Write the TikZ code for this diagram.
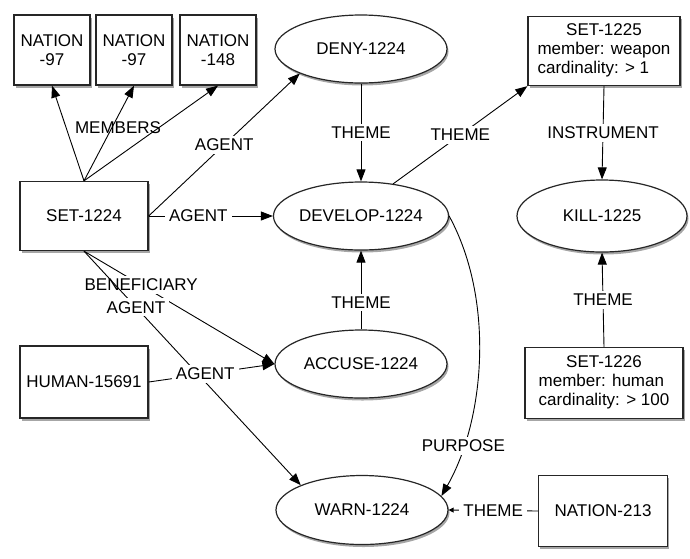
\documentclass[tikz,border=0pt]{standalone}
\usepackage{fontspec}
\setmainfont{Liberation Sans}
\usetikzlibrary{shapes.geometric,shadows,arrows.meta}
\begin{document}
\begin{tikzpicture}[x=1pt,y=-1pt,
 font=\fontsize{17}{19}\selectfont,
 shad/.style={drop shadow={shadow xshift=1.5pt,shadow yshift=-2.5pt,opacity=0.35,fill=black}},
 box/.style={rectangle,draw=black!85,line width=1.3pt,fill=white,align=center,shad,inner sep=2pt},
 oval/.style={ellipse,draw=black!85,line width=1.2pt,fill=white,shad,minimum width=172pt,minimum height=68pt,inner sep=0pt},
 arr/.style={-{Triangle[length=12pt,width=9pt]},line width=0.9pt},
 smallarr/.style={-{Triangle[length=5pt,width=5pt]},line width=0.9pt},
 lbl/.style={fill=white,inner xsep=4pt,inner ysep=3pt}]
\fill[white] (0,0) rectangle (690,558);
\useasboundingbox (0,0) rectangle (690,558);

% nodes
\node[box,minimum width=76pt,minimum height=70pt] (n1) at (52,50) {NATION\\-97};
\node[box,minimum width=76pt,minimum height=70pt] (n2) at (134,50) {NATION\\-97};
\node[box,minimum width=76pt,minimum height=70pt] (n3) at (218,50) {NATION\\-148};
\node[oval] (deny) at (361,49) {DENY-1224};
\node[box,minimum width=152pt,minimum height=69pt] (set1225) at (604,51)
  {\begin{tabular}{@{}l@{}}\multicolumn{1}{@{}c@{}}{SET-1225}\\member: weapon\\cardinality: > 1\end{tabular}};
\node[box,minimum width=128pt,minimum height=69pt] (set1224) at (84,216) {SET-1224};
\node[oval] (develop) at (361,216) {DEVELOP-1224};
\node[oval,minimum width=170pt,minimum height=72pt] (kill) at (602,216) {KILL-1225};
\node[oval] (accuse) at (361,364) {ACCUSE-1224};
\node[box,minimum width=128pt,minimum height=72pt] (human) at (84,382) {HUMAN-15691};
\node[box,minimum width=158pt,minimum height=71pt] (set1226) at (604,383)
  {\begin{tabular}{@{}l@{}}\multicolumn{1}{@{}c@{}}{SET-1226}\\member: human\\cardinality: > 100\end{tabular}};
\node[oval,minimum height=69pt] (warn) at (362,510) {WARN-1224};
\node[box,minimum width=129pt,minimum height=71pt] (nat213) at (603,511) {NATION-213};

% edges
\draw[arr] (set1224.north) -- (n1.south);
\draw[arr] (set1224.north) -- node[pos=0.56,xshift=6pt,inner sep=1pt] {MEMBERS} (n2.south);
\draw[arr] (set1224.north) -- (n3.south);
\draw[arr] (set1224.east) -- node[lbl,pos=0.5] {AGENT} (deny.south west);
\draw[arr] (set1224.east) -- node[lbl,pos=0.4] {AGENT} (develop.west);
\draw[arr] (set1224.south) -- node[lbl,pos=0.3] {BENEFICIARY} (accuse.west);
\draw[arr] (set1224.south) -- node[lbl,pos=0.24] {AGENT} (warn.north west);
\draw[arr] (human.east) -- node[lbl,pos=0.45] {AGENT} (accuse.west);
\draw[arr] (deny.south) -- node[lbl] {THEME} (develop.north);
\draw[arr] (accuse.north) -- node[lbl,pos=0.34] {THEME} (develop.south);
\draw[arr] (develop.45) -- node[lbl] {THEME} (set1225.south west);
\draw[arr] (set1225.south) -- node[lbl] {INSTRUMENT} (kill.north);
\draw[arr] (set1226.north) -- node[lbl] {THEME} (kill.south);
\draw[arr] (develop.east) .. controls (495,300) and (485,420) .. node[lbl,pos=0.8] {PURPOSE} (warn.10);
\draw[smallarr] (nat213.west) -- node[lbl] {THEME} (warn.east);
\end{tikzpicture}
\end{document}
